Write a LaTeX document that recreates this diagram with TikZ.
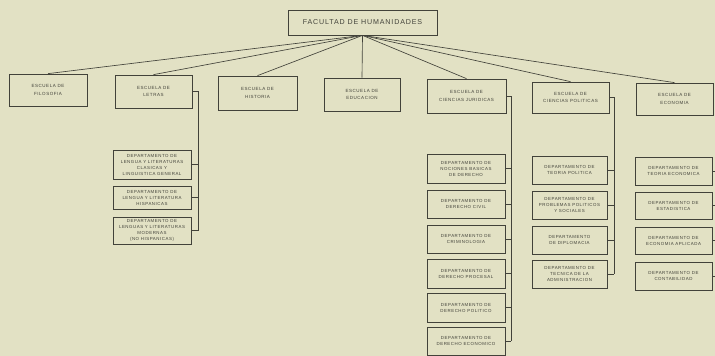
\documentclass[tikz,border=0pt]{standalone}
\usepackage{fontspec}
\newfontfamily\labfont[LetterSpace=12]{Liberation Sans}
\definecolor{paper}{RGB}{226,225,196}
\definecolor{ink}{RGB}{66,66,58}
\begin{document}
\begin{tikzpicture}[x=1pt,y=-1pt,
  box/.style={draw=ink, line width=0.75pt, rectangle, inner sep=0pt, align=center,
    text=ink, font=\labfont\fontsize{4.4}{6}\selectfont},
  school/.style={box, font=\labfont\fontsize{4.5}{7.5}\selectfont},
  title/.style={box, font=\labfont\fontsize{7.1}{8}\selectfont},
  dim/.style 2 args={minimum width=#1pt, minimum height=#2pt},
  link/.style={draw=ink, line width=0.65pt}]
% sheet
\fill[paper] (0,0) rectangle (715,356);
\useasboundingbox (0,0) rectangle (715,356);

% faculty
\node[title, dim={149}{25}] (fac) at (362.5,22.5) {FACULTAD DE HUMANIDADES};

% schools
\node[school, dim={78}{32}] (fil) at (48,90)    {ESCUELA DE\\FILOSOFIA};
\node[school, dim={77}{33}] (let) at (153.5,91.5) {ESCUELA DE\\LETRAS};
\node[school, dim={79}{34}] (his) at (257.5,93) {ESCUELA DE\\HISTORIA};
\node[school, dim={76}{33}] (edu) at (362,94.5) {ESCUELA DE\\EDUCACION};
\node[school, dim={79}{34}] (jur) at (466.5,96) {ESCUELA DE\\CIENCIAS JURIDICAS};
\node[school, dim={77}{31}] (pol) at (570.5,97.5) {ESCUELA DE\\CIENCIAS POLITICAS};
\node[school, dim={77}{32}] (eco) at (674.5,99) {ESCUELA DE\\ECONOMIA};

\foreach \s in {fil,let,his,edu,jur,pol,eco}
  \draw[link] (fac.south) -- (\s.north);

% departments of Letras
\node[box, dim={78}{29}] (l1) at (152,164.5) {DEPARTAMENTO DE\\LENGUA Y LITERATURAS\\CLASICAS Y\\LINGUISTICA GENERAL};
\node[box, dim={78}{23}] (l2) at (152,197.5) {DEPARTAMENTO DE\\LENGUA Y LITERATURA\\HISPANICAS};
\node[box, dim={78}{27}] (l3) at (152,230.5) {DEPARTAMENTO DE\\LENGUAS Y LITERATURAS\\MODERNAS\\(NO HISPANICAS)};

% departments of Ciencias Juridicas
\node[box, dim={78}{29}] (j1) at (466,168.5) {DEPARTAMENTO DE\\NOCIONES BASICAS\\DE DERECHO};
\node[box, dim={78}{28}] (j2) at (466,204)   {DEPARTAMENTO DE\\DERECHO CIVIL};
\node[box, dim={78}{28}] (j3) at (466,239)   {DEPARTAMENTO DE\\CRIMINOLOGIA};
\node[box, dim={78}{29}] (j4) at (466,273.5) {DEPARTAMENTO DE\\DERECHO PROCESAL};
\node[box, dim={78}{29}] (j5) at (466,307.5) {DEPARTAMENTO DE\\DERECHO POLITICO};
\node[box, dim={78}{28}] (j6) at (466,341)   {DEPARTAMENTO DE\\DERECHO ECONOMICO};

% departments of Ciencias Politicas
\node[box, dim={75}{28}] (p1) at (569.5,170) {DEPARTAMENTO DE\\TEORIA POLITICA};
\node[box, dim={75}{28}] (p2) at (569.5,205) {DEPARTAMENTO DE\\PROBLEMAS POLITICOS\\Y SOCIALES};
\node[box, dim={75}{28}] (p3) at (569.5,240) {DEPARTAMENTO\\DE DIPLOMACIA};
\node[box, dim={75}{28}] (p4) at (569.5,274) {DEPARTAMENTO DE\\TECNICA DE LA\\ADMINISTRACION};

% departments of Economia
\node[box, dim={77}{28}] (e1) at (673.5,171)   {DEPARTAMENTO DE\\TEORIA ECONOMICA};
\node[box, dim={77}{27}] (e2) at (673.5,205.5) {DEPARTAMENTO DE\\ESTADISTICA};
\node[box, dim={77}{27}] (e3) at (673.5,240.5) {DEPARTAMENTO DE\\ECONOMIA APLICADA};
\node[box, dim={77}{28}] (e4) at (673.5,276)   {DEPARTAMENTO DE\\CONTABILIDAD};

% bracket rails
\coordinate (letbar) at (198,0);
\coordinate (jurbar) at (511,0);
\coordinate (polbar) at (614,0);
\coordinate (ecobar) at (715,0);

\draw[link] (let.east) -- (let.east -| letbar) -- (l3.east -| letbar);
\foreach \d in {l1,l2,l3}
  \draw[link] (\d.east) -- (\d.east -| letbar);

\draw[link] (jur.east) -- (jur.east -| jurbar) -- (j6.east -| jurbar);
\foreach \d in {j1,j2,j3,j4,j5,j6}
  \draw[link] (\d.east) -- (\d.east -| jurbar);

\draw[link] (pol.east) -- (pol.east -| polbar) -- (p4.east -| polbar);
\foreach \d in {p1,p2,p3,p4}
  \draw[link] (\d.east) -- (\d.east -| polbar);

\foreach \d in {e1,e2,e3,e4}
  \draw[link] (\d.east) -- (\d.east -| ecobar);
\end{tikzpicture}
\end{document}
